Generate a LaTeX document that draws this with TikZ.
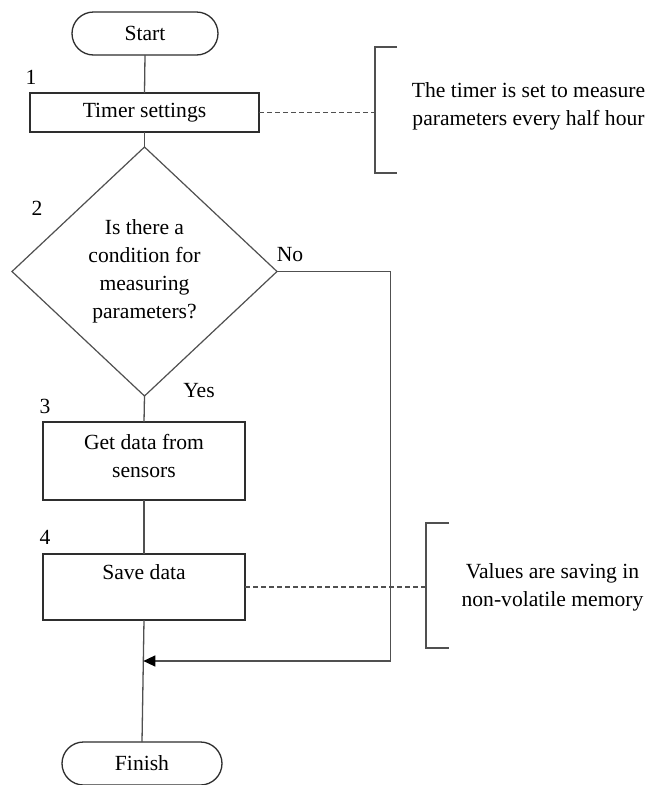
\documentclass[tikz,border=0pt]{standalone}
\usepackage{fontspec}
\setmainfont{Liberation Serif}
\usetikzlibrary{shapes.misc,shapes.geometric,arrows.meta,calc}
\definecolor{boxline}{HTML}{2E2E2E}
\definecolor{conn}{HTML}{505050}
\tikzset{
  every node/.style={font=\fontsize{21.6}{28}\selectfont},
  term/.style={rounded rectangle, draw=boxline, line width=1.3pt, inner sep=0pt, outer sep=0pt, minimum height=43pt},
  procbox/.style={rectangle, draw=boxline, line width=1.3pt, inner sep=0pt, outer sep=0pt, align=center},
  decide/.style={diamond, draw=conn, line width=1.2pt, inner sep=0pt, outer sep=0pt, align=center, minimum width=265pt, minimum height=249pt},
  numlbl/.style={inner sep=0pt, anchor=base},
  notetext/.style={inner sep=0pt, align=center},
  conline/.style={draw=conn, line width=1.3pt},
  dashline/.style={draw=conn, line width=1.3pt, dash pattern=on 5pt off 3pt},
  bracketline/.style={draw=conn, line width=1.3pt},
}
\begin{document}
\begin{tikzpicture}[x=1pt,y=-1pt]
\path[use as bounding box, fill=white] (0,0) rectangle (651,785);

% main flow nodes
\node[term, minimum width=146pt] (start) at (145,33.5) {Start};
\node[procbox, minimum width=229pt, minimum height=39pt] (timer) at (144.5,112.5) {Timer settings};
\node[decide] (dia) at (144.5,271.5) {Is there a\\condition for\\measuring\\parameters?};
\node[procbox, minimum width=202pt, minimum height=78pt, text depth=10pt] (get) at (144,461) {Get data from\\sensors};
\node[procbox, minimum width=202pt, minimum height=66pt, text depth=30pt] (save) at (144,587) {Save data};
\node[term, minimum width=160pt] (finish) at (142,763.5) {Finish};

% step numbers and branch labels
\node[numlbl] (n1) at (31,84) {1};
\node[numlbl] (n2) at (37,215) {2};
\node[numlbl] (n3) at (45,413) {3};
\node[numlbl] (n4) at (45,544) {4};
\node[numlbl] (no) at (290,261) {No};
\node[numlbl] (yes) at (199,397) {Yes};

% notes
\node[notetext] (note1) at (528.5,106.5) {The timer is set to measure\\parameters every half hour};
\node[notetext] (note2) at (552.5,587.5) {Values are saving in\\non-volatile memory};

% brackets
\coordinate (b1t) at (397,47);
\coordinate (b1m) at (375,112.5);
\coordinate (b1b) at (397,173);
\draw[bracketline] (b1t) -- (375,47) -- (375,173) -- (b1b);
\coordinate (b2t) at (449,523);
\coordinate (b2m) at (426,587);
\coordinate (b2b) at (449,648);
\draw[bracketline] (b2t) -- (426,523) -- (426,648) -- (b2b);

% dashed links
\draw[dashline] (timer.east) -- (b1m);
\draw[dashline] (save.east) -- (b2m);

% connectors
\draw[conline] (start.south) -- (timer.north);
\draw[conline] (timer.south) -- (dia.north);
\draw[conline] (dia.south) -- (get.north);
\draw[conline] (get.south) -- (save.north);
\draw[conline] (save.south) -- (finish.north);
\coordinate (join) at ($(save.south)!0.336!(finish.north)$);
\coordinate (rc1) at (390.5,271.5);
\draw[conline, -{Triangle[length=12pt,width=11pt,fill=black,color=black]}] (dia.east) -- (rc1) |- (join);
\end{tikzpicture}
\end{document}
